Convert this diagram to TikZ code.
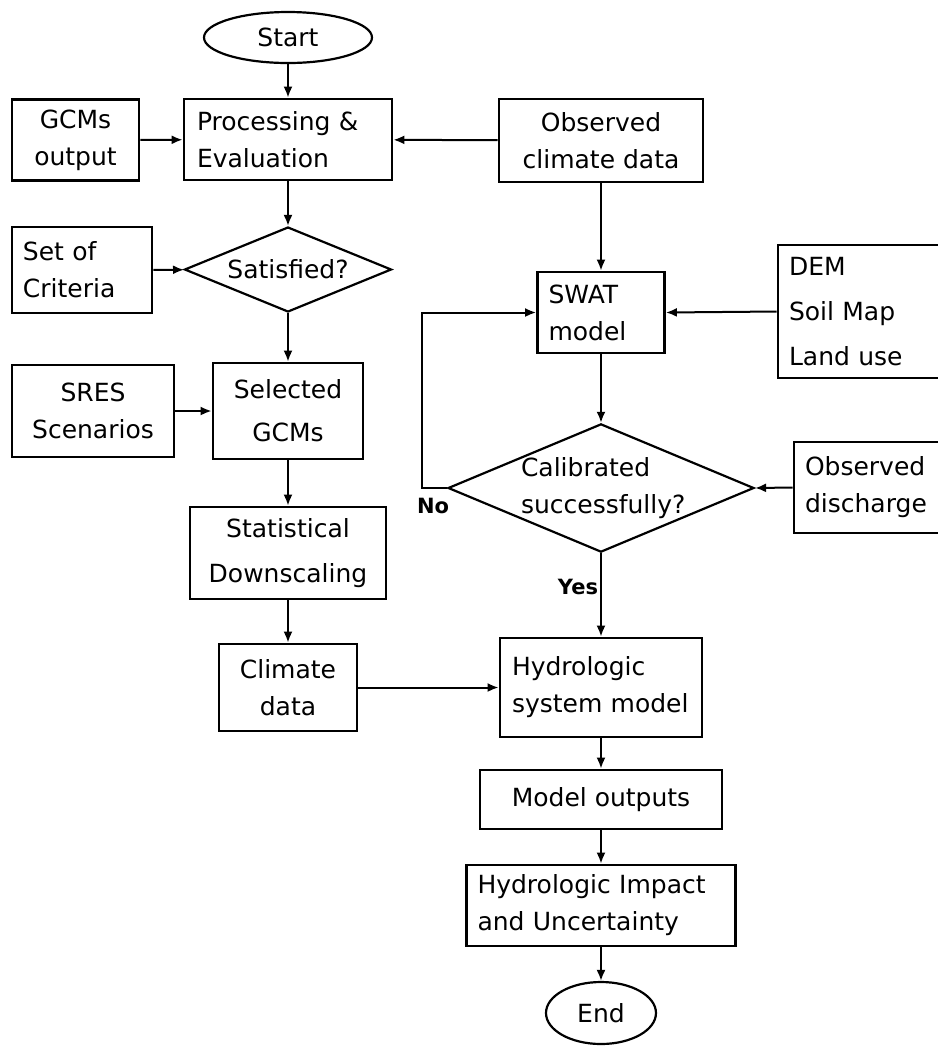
\documentclass[tikz,border=0pt]{standalone}
\usepackage{fontspec}
\setmainfont{DejaVu Sans}
\usetikzlibrary{
  arrows.meta,
  shapes.geometric
}
\tikzset{
  every node/.style={
    font=\fontsize{12.5pt}{18.5pt}\selectfont,
    inner sep=0pt
  },
  flow box/.style={
    draw,
    line width=1.4pt,
    rectangle,
    align=center
  },
  flow left/.style={
    flow box,
    align=left,
    inner xsep=5.5pt
  },
  flow ends/.style={
    draw,
    line width=1.1pt,
    ellipse
  },
  flow test/.style={
    draw,
    line width=1.1pt,
    diamond
  },
  flow arrow/.style={
    -{Latex[length=5.5pt,width=4.5pt]},
    line width=1pt
  },
  flow label/.style={
    font=\bfseries\fontsize{10.5pt}{12pt}\selectfont
  }
}

\begin{document}
\begin{tikzpicture}[x=0.5pt,y=-0.5pt]
  \clip (0,0) rectangle (938,1046);
  % left column
  \node [flow ends, minimum width=84pt, minimum height=25.5pt] (start) at (288,37.5) {Start};
  \node [flow left, inner xsep=6.5pt, text width=91pt, minimum height=40.5pt] (proc) at (288,139.5) {Processing \&\\Evaluation};
  \node [flow box, minimum width=63.5pt, minimum height=40.5pt] (gcms) at (75.5,140) {GCMs\\output};
  \node [flow test, shape aspect=2.435, minimum width=103.5pt, minimum height=42.5pt] (satisfied) at (288,269.5) {Satisfied?};
  \node [flow left, text width=59pt, minimum height=43pt] (criteria) at (82,270) {Set of\\Criteria};
  \node [flow box, minimum width=81pt, minimum height=46pt] (sres) at (93,411) {SRES\\Scenarios};
  \node [flow box, minimum width=75pt, minimum height=48pt] (selected) at (288,411) {Selected\\[3pt]GCMs};
  \node [flow box, minimum width=98pt, minimum height=46pt] (downscale) at (288,553) {Statistical\\[4pt]Downscaling};
  \node [flow box, minimum width=69pt, minimum height=43.5pt] (climate) at (288,687.5) {Climate\\data};
  % right column
  \node [flow box, minimum width=102pt, minimum height=41.5pt] (observed) at (601,140.5) {Observed\\climate data};
  \node [flow left, text width=52.5pt, minimum height=40.5pt] (swat) at (601,312.5) {SWAT\\model};
  \node [flow left, text width=74pt, minimum height=66.5pt] (inputs) at (863,311.5) {DEM\\[4pt]Soil Map\\[4pt]Land use};
  \node [flow test, shape aspect=2.385, text width=80pt, align=left] (calibrated) at (601,488) {Calibrated\\successfully?};
  \node [flow left, text width=66pt, minimum height=45.5pt] (discharge) at (871,487.5) {Observed\\discharge};
  \node [flow left, inner xsep=6pt, text width=89pt, minimum height=49.5pt] (hydro) at (601,687.5) {Hydrologic\\system model};
  \node [flow box, minimum width=121pt, minimum height=29.5pt] (outputs) at (601,799.5) {Model outputs};
  \node [flow left, text width=123.5pt, minimum height=40.5pt] (impact) at (601,905.5) {Hydrologic Impact\\and Uncertainty};
  \node [flow ends, minimum width=55pt, minimum height=31pt] (end) at (601,1013) {End};
  \node [flow label] (no) at (433,506) {No};
  \node [flow label] (yes) at (578,587) {Yes};

  \draw [flow arrow] (start) -- (proc);
  \draw [flow arrow] (gcms) -- (proc);
  \draw [flow arrow] (observed) -- (proc);
  \draw [flow arrow] (proc) -- (satisfied);
  \draw [flow arrow] (criteria) -- (satisfied);
  \draw [flow arrow] (satisfied) -- (selected);
  \draw [flow arrow] (sres) -- (selected);
  \draw [flow arrow] (selected) -- (downscale);
  \draw [flow arrow] (downscale) -- (climate);
  \draw [flow arrow] (climate) -- (hydro);
  \draw [flow arrow] (observed) -- (swat);
  \draw [flow arrow] (inputs.west) -- (swat.east);
  \draw [flow arrow] (swat) -- (calibrated);
  \draw [flow arrow] (discharge.west) -- (calibrated.east);
  \draw [flow arrow] (calibrated.west) -- ++(-25,0) |- (swat.west);
  \draw [flow arrow] (calibrated) -- (hydro);
  \draw [flow arrow] (hydro) -- (outputs);
  \draw [flow arrow] (outputs) -- (impact);
  \draw [flow arrow] (impact) -- (end);
\end{tikzpicture}
\end{document}
